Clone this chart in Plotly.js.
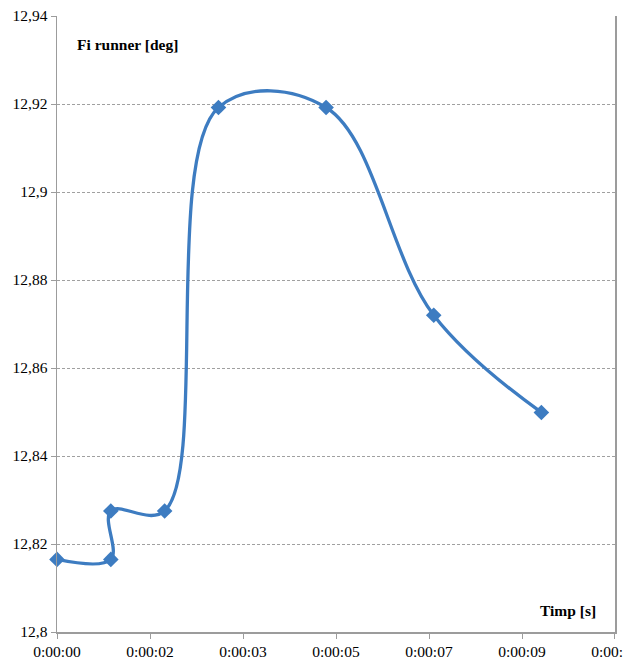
<!DOCTYPE html>
<html>
<head>
<meta charset="utf-8">
<script src="https://cdn.plot.ly/plotly-3.0.1.min.js"></script>
<style>
html,body{margin:0;padding:0;background:#fff;}
#chart{width:624px;height:663px;}
</style>
</head>
<body>
<div id="chart"></div>
<script>
// Data (time in seconds, angle in degrees)
const timeSec = [0, 1, 1, 2, 3, 5, 7, 9];
const fiRunner = [12.8165, 12.8165, 12.8275, 12.8275, 12.9192, 12.9192, 12.872, 12.8499];

// Axis ticks (Excel time axis, major unit 0.00002 day = 1.728 s)
const xTickVals = [0, 1.728, 3.456, 5.184, 6.912, 8.64, 10.368];
const xTickText = ["0:00:00", "0:00:02", "0:00:03", "0:00:05", "0:00:07", "0:00:09", "0:00:10"];
const yTickVals = [12.8, 12.82, 12.84, 12.86, 12.88, 12.9, 12.92, 12.94];
const yTickText = ["12,8", "12,82", "12,84", "12,86", "12,88", "12,9", "12,92", "12,94"];

const blue = "#3d7cc1";
const axisGray = "#9c9c9c";
const font = {family: "Liberation Serif", size: 15.5, color: "#000"};

const trace = {
  x: timeSec,
  y: fiRunner,
  type: "scatter",
  mode: "lines+markers",
  cliponaxis: false,
  line: {color: blue, width: 3.3, shape: "spline", smoothing: 1.05},
  marker: {symbol: "diamond", size: 12, color: blue},
  hoverinfo: "skip"
};

const layout = {
  width: 624,
  height: 663,
  margin: {l: 57, r: 9, t: 16, b: 31},
  paper_bgcolor: "#fff",
  plot_bgcolor: "#fff",
  showlegend: false,
  font: font,
  xaxis: {
    range: [0, 10.3681],
    tickvals: xTickVals,
    ticktext: xTickText,
    showgrid: false,
    zeroline: false,
    showline: true,
    linecolor: axisGray,
    linewidth: 1.5,
    ticks: "outside",
    ticklen: 5,
    tickcolor: axisGray,
    tickfont: font,
    ticklabeloverflow: "allow",
    automargin: false
  },
  yaxis: {
    range: [12.8, 12.94],
    tickvals: yTickVals,
    ticktext: yTickText,
    showgrid: true,
    gridcolor: "#a0a0a0",
    gridwidth: 1,
    griddash: "3px,2px",
    zeroline: false,
    showline: true,
    mirror: true,
    linecolor: axisGray,
    linewidth: 1.5,
    ticks: "outside",
    ticklen: 5,
    tickcolor: axisGray,
    tickfont: font,
    ticklabeloverflow: "allow",
    automargin: false
  },
  annotations: [
    {
      text: "<b>Fi runner [deg]</b>",
      xref: "paper", yref: "paper",
      x: 0.032, y: 0.953,
      xanchor: "left", yanchor: "middle",
      showarrow: false,
      font: font
    },
    {
      text: "<b>Timp [s]</b>",
      xref: "paper", yref: "paper",
      x: 0.9695, y: 0.0357,
      xanchor: "right", yanchor: "middle",
      showarrow: false,
      font: font
    }
  ]
};

Plotly.newPlot("chart", [trace], layout, {staticPlot: true, displayModeBar: false});
</script>
</body>
</html>
